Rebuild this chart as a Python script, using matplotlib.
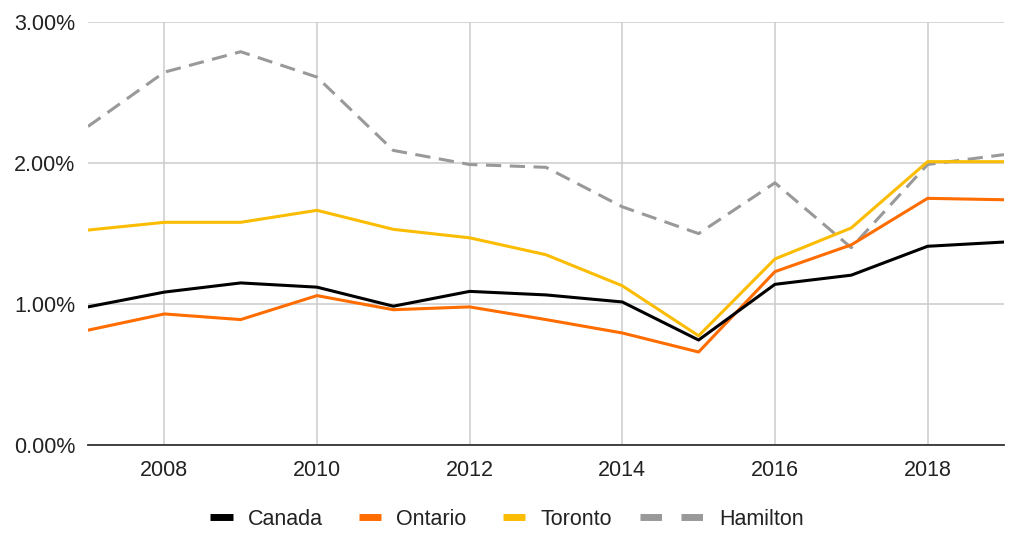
import matplotlib
matplotlib.use("Agg")
import matplotlib.pyplot as plt
from matplotlib.lines import Line2D
from matplotlib.ticker import FuncFormatter

plt.rcParams['font.family'] = ['Liberation Sans', 'DejaVu Sans']

# data (percent)
years = [2007, 2008, 2009, 2010, 2011, 2012, 2013, 2014, 2015, 2016, 2017, 2018, 2019]
canada = [0.98, 1.085, 1.15, 1.12, 0.985, 1.09, 1.065, 1.015, 0.745, 1.14, 1.205, 1.41, 1.44]
ontario = [0.815, 0.93, 0.89, 1.06, 0.96, 0.98, 0.89, 0.795, 0.66, 1.23, 1.42, 1.75, 1.74]
toronto = [1.525, 1.58, 1.58, 1.665, 1.53, 1.47, 1.35, 1.13, 0.775, 1.32, 1.54, 2.01, 2.01]
hamilton = [2.26, 2.645, 2.79, 2.61, 2.09, 1.99, 1.97, 1.69, 1.50, 1.86, 1.40, 1.99, 2.06]

x_ticks = [2008, 2010, 2012, 2014, 2016, 2018]
y_ticks = [0, 1, 2, 3]

c_canada = "#000000"
c_ontario = "#ff6d01"
c_toronto = "#fbbc04"
c_hamilton = "#999999"

fs = 15.5

fig = plt.figure(figsize=(10.13, 5.33), dpi=100)
ax = fig.add_axes([0.0869, 0.165, 0.9041, 0.7935])

lw = 2.2
ax.plot(years, hamilton, color=c_hamilton, lw=lw, dashes=(5, 2.8), zorder=3)
ax.plot(years, toronto, color=c_toronto, lw=lw, zorder=4)
ax.plot(years, ontario, color=c_ontario, lw=lw, zorder=5)
ax.plot(years, canada, color=c_canada, lw=lw, zorder=6)

ax.set_xlim(2007, 2019)
ax.set_ylim(0, 3)
ax.set_xticks(x_ticks)
ax.set_yticks(y_ticks)
ax.yaxis.set_major_formatter(FuncFormatter(lambda v, p: "%.2f%%" % v))
ax.grid(True, color="#cccccc", lw=1.1)
ax.set_axisbelow(True)
for s in ["top", "right", "left"]:
    ax.spines[s].set_visible(False)
ax.spines["bottom"].set_color("#333333")
ax.spines["bottom"].set_linewidth(1.3)
ax.spines["bottom"].set_zorder(2)
ax.tick_params(axis="both", length=0, labelsize=fs, colors="#222222")
ax.tick_params(axis="y", pad=9)
ax.tick_params(axis="x", pad=11)

# legend: solid entries and the dashed one split so handle widths can differ
h1 = [Line2D([], [], color=c_canada, lw=5, solid_capstyle="butt"),
      Line2D([], [], color=c_ontario, lw=5, solid_capstyle="butt"),
      Line2D([], [], color=c_toronto, lw=5, solid_capstyle="butt")]
leg1 = fig.legend(h1, ["Canada", "Ontario", "Toronto"], loc="center right",
                  bbox_to_anchor=(612 / 1013, 0.026), ncol=3, frameon=False,
                  fontsize=fs, handlelength=1.03, handletextpad=0.7,
                  columnspacing=1.7, borderpad=0, borderaxespad=0)
h2 = [Line2D([], [], color=c_hamilton, lw=5, dashes=(3.1, 2.8))]
leg2 = fig.legend(h2, ["Hamilton"], loc="center left",
                  bbox_to_anchor=(640 / 1013, 0.026), frameon=False,
                  fontsize=fs, handlelength=2.98, handletextpad=0.7,
                  borderpad=0, borderaxespad=0)
for t in leg1.get_texts() + leg2.get_texts():
    t.set_color("#222222")

fig.savefig("out.png", dpi=100)
